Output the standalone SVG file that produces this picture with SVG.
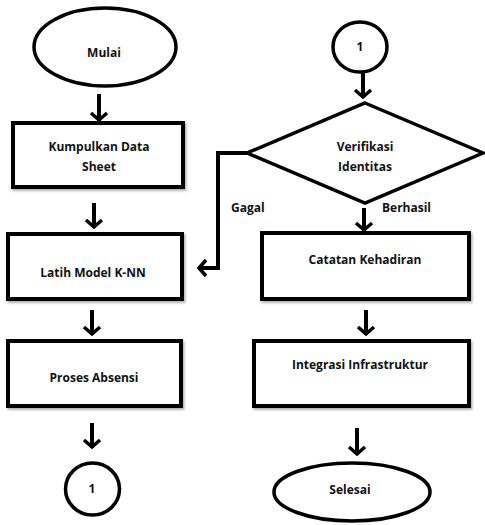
<svg xmlns="http://www.w3.org/2000/svg" width="485" height="525" viewBox="0 0 485 525">
<style>
.shape{fill:#fff;stroke:#000;stroke-width:3.5}
.box{fill:#fff;stroke:#000;stroke-width:4}
.t{font-family:"Open Sans","Liberation Sans",sans-serif;font-weight:bold;font-size:12px;fill:#111;text-anchor:middle}
.lbl{font-family:"Open Sans","Liberation Sans",sans-serif;font-weight:bold;font-size:12px;fill:#111}
.c{fill:none;stroke:#000;stroke-width:4}
</style>
<defs>
<filter id="sh" x="-10%" y="-10%" width="130%" height="140%">
<feDropShadow dx="1.5" dy="2" stdDeviation="1.2" flood-color="#000" flood-opacity="0.3"/>
</filter>
<marker id="ah" viewBox="-12 -10 14 20" markerWidth="14" markerHeight="20" refX="0" refY="0" orient="auto" markerUnits="userSpaceOnUse">
<path d="M-8,-8 L-1,0 L-8,8" fill="none" stroke="#000" stroke-width="3.5"/>
</marker>
</defs>
<g id="connectors">
<line class="c" x1="99" y1="94" x2="99" y2="121" marker-end="url(#ah)"/>
<line class="c" x1="94" y1="203" x2="94" y2="228" marker-end="url(#ah)"/>
<line class="c" x1="92" y1="310" x2="92" y2="335" marker-end="url(#ah)"/>
<line class="c" x1="92" y1="423" x2="92" y2="448" marker-end="url(#ah)"/>
<line class="c" x1="363" y1="72" x2="363" y2="98" marker-end="url(#ah)"/>
<path class="c" d="M248,153 H218 V268 H198" marker-end="url(#ah)"/>
<line class="c" x1="364" y1="208" x2="364" y2="231" marker-end="url(#ah)"/>
<line class="c" x1="366" y1="310" x2="366" y2="335" marker-end="url(#ah)"/>
<line class="c" x1="357" y1="428" x2="357" y2="455" marker-end="url(#ah)"/>
<text class="lbl" x="231" y="212">Gagal</text>
<text class="lbl" x="382" y="212">Berhasil</text>
</g>
<g id="mulai">
<ellipse class="shape" cx="105" cy="47" rx="71" ry="39"/>
<text class="t" x="104" y="57">Mulai</text>
</g>
<g id="kumpulkan">
<rect class="box" x="13" y="123" width="170" height="64" filter="url(#sh)"/>
<text class="t" x="99" y="151">Kumpulkan Data</text>
<text class="t" x="99" y="171">Sheet</text>
</g>
<g id="latih">
<rect class="box" x="8" y="234" width="174" height="65" filter="url(#sh)"/>
<text class="t" x="93" y="277">Latih Model K-NN</text>
</g>
<g id="proses">
<rect class="box" x="8" y="341" width="173" height="65" filter="url(#sh)"/>
<text class="t" x="94" y="382">Proses Absensi</text>
</g>
<g id="konektor1-bawah">
<ellipse class="shape" cx="92.5" cy="489" rx="27" ry="26"/>
<text class="t" x="92" y="493">1</text>
</g>
<g id="konektor1-atas">
<ellipse class="shape" cx="360" cy="47" rx="27" ry="25"/>
<text class="t" x="360" y="51">1</text>
</g>
<g id="verifikasi">
<polygon class="shape" points="365,103 483,153 365,203 247,153"/>
<text class="t" x="365" y="151">Verifikasi</text>
<text class="t" x="365" y="171">Identitas</text>
</g>
<g id="catatan">
<rect class="box" x="262" y="233" width="207" height="66" filter="url(#sh)"/>
<text class="t" x="365" y="264">Catatan Kehadiran</text>
</g>
<g id="integrasi">
<rect class="box" x="254" y="341" width="215" height="65" filter="url(#sh)"/>
<text class="t" x="360" y="369">Integrasi Infrastruktur</text>
</g>
<g id="selesai">
<ellipse class="shape" cx="352" cy="492" rx="78" ry="29"/>
<text class="t" x="350" y="494">Selesai</text>
</g>
</svg>
